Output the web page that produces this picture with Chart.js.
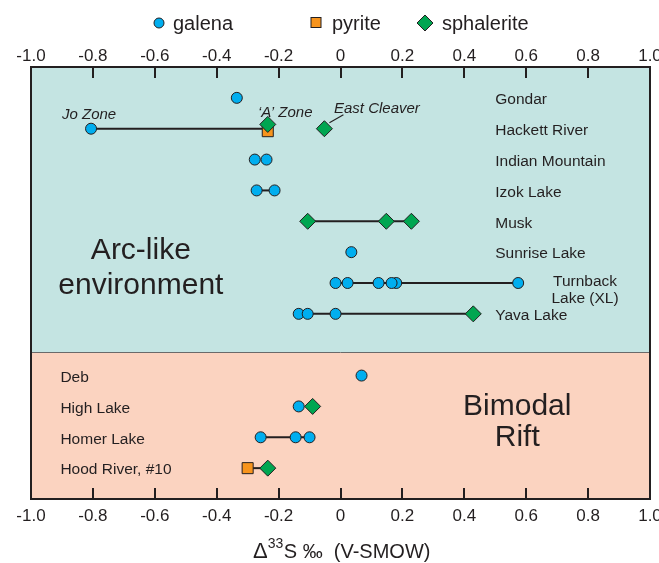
<!DOCTYPE html>
<html>
<head>
<meta charset="utf-8">
<script src="https://cdn.jsdelivr.net/npm/chart.js@4.4.1/dist/chart.umd.min.js"></script>
<style>
  html, body { margin: 0; padding: 0; background: #fff; }
  #wrap { width: 659px; height: 563px; }
</style>
</head>
<body>
<div id="wrap"><canvas id="myChart"></canvas></div>
<script>
// rows counted from the top of the plot; row 9 is the gap between the two settings
const sites = ['Gondar', 'Hackett River', 'Indian Mountain', 'Izok Lake', 'Musk', 'Sunrise Lake',
  'Turnback\nLake (XL)', 'Yava Lake', 'Deb', 'High Lake', 'Homer Lake', 'Hood River, #10'];
const siteRows = [1, 2, 3, 4, 5, 6, 7, 8, 10, 11, 12, 13];
const bandSplit = 9.25;

// [delta33S, row]
const galena = [
  [-0.335, 1], [-0.806, 2], [-0.277, 3], [-0.239, 3], [-0.271, 4], [-0.213, 4],
  [0.035, 6],
  [0.574, 7], [0.18, 7], [0.165, 7], [0.123, 7], [0.023, 7], [-0.016, 7],
  [-0.135, 8], [-0.106, 8], [-0.016, 8],
  [0.068, 10], [-0.135, 11], [-0.258, 12], [-0.145, 12], [-0.1, 12]
];
const pyrite = [[-0.235, 2.08], [-0.3, 13]];
const sphalerite = [
  [-0.235, 1.86], [-0.052, 2], [-0.106, 5], [0.148, 5], [0.229, 5],
  [0.429, 8], [-0.09, 11], [-0.235, 13]
];
// [row, from, to]
const ties = [
  [2, -0.806, -0.235], [4, -0.271, -0.213], [5, -0.106, 0.229], [7, -0.016, 0.574],
  [8, -0.135, 0.429], [12, -0.258, -0.1], [13, -0.3, -0.235]
];
const xTicks = { min: -1, max: 1, step: 0.2 };

const ink = '#231f20';
const colGalena = '#00aeef';
const colPyrite = '#f7941d';
const colSphal = '#00a651';
Chart.defaults.font.family = "'Liberation Sans', Arial, sans-serif";
Chart.defaults.color = ink;

const toPts = arr => arr.map(p => ({ x: p[0], y: p[1] }));

const datasets = [
  { label: 'galena', data: toPts(galena), pointStyle: 'circle', pointRadius: 5.5,
    backgroundColor: colGalena, borderColor: ink, borderWidth: 1, order: 3 },
  { label: 'pyrite', data: toPts(pyrite), pointStyle: 'rect', pointRadius: 7.8,
    backgroundColor: colPyrite, borderColor: ink, borderWidth: 1, order: 2 },
  { label: 'sphalerite', data: toPts(sphalerite), pointStyle: 'rectRot', pointRadius: 8,
    backgroundColor: colSphal, borderColor: ink, borderWidth: 1, order: 1 }
];
ties.forEach(t => {
  datasets.push({
    label: 'tie', data: [{ x: t[1], y: t[0] }, { x: t[2], y: t[0] }],
    showLine: true, pointRadius: 0, borderColor: ink, borderWidth: 2, order: 10
  });
});

function tickText(v) {
  if (Math.abs(v) < 1e-9) return '0';
  return v.toFixed(1);
}

const decor = {
  id: 'decor',
  beforeDatasetsDraw(chart) {
    const { ctx, chartArea: a, scales: { x, y } } = chart;
    const split = y.getPixelForValue(bandSplit);
    ctx.save();
    ctx.fillStyle = '#c4e4e2';
    ctx.fillRect(a.left, a.top, a.width, split - a.top);
    ctx.fillStyle = '#fbd3c0';
    ctx.fillRect(a.left, split, a.width, a.bottom - split);
    ctx.strokeStyle = '#6a6a6a';
    ctx.lineWidth = 1;
    ctx.beginPath();
    ctx.moveTo(a.left, Math.round(split) + 0.5);
    ctx.lineTo(a.right, Math.round(split) + 0.5);
    ctx.stroke();

    // frame + inward ticks
    ctx.strokeStyle = ink;
    ctx.lineWidth = 2;
    ctx.strokeRect(a.left, a.top, a.width, a.height);
    ctx.beginPath();
    x.ticks.forEach(t => {
      if (t.value <= x.min + 1e-9 || t.value >= x.max - 1e-9) return;
      const px = Math.round(x.getPixelForValue(t.value));
      ctx.moveTo(px, a.top);
      ctx.lineTo(px, a.top + 11);
      ctx.moveTo(px, a.bottom);
      ctx.lineTo(px, a.bottom - 11);
    });
    ctx.stroke();

    // site names
    ctx.fillStyle = ink;
    ctx.font = "15.5px 'Liberation Sans', Arial, sans-serif";
    ctx.textBaseline = 'middle';
    sites.forEach((s, i) => {
      const py = y.getPixelForValue(siteRows[i]) + 2;
      if (s.indexOf('\n') >= 0) {
        const parts = s.split('\n');
        ctx.textAlign = 'center';
        const cx = x.getPixelForValue(0.79);
        ctx.fillText(parts[0], cx, py - 3);
        ctx.fillText(parts[1], cx, py + 14);
      } else if (siteRows[i] < bandSplit) {
        ctx.textAlign = 'left';
        ctx.fillText(s, x.getPixelForValue(0.5), py);
      } else {
        ctx.textAlign = 'left';
        ctx.fillText(s, x.getPixelForValue(-0.905), py);
      }
    });

    // setting names
    ctx.font = "30px 'Liberation Sans', Arial, sans-serif";
    ctx.textAlign = 'center';
    ctx.fillText('Arc-like', x.getPixelForValue(-0.645), y.getPixelForValue(5.95));
    ctx.fillText('environment', x.getPixelForValue(-0.645), y.getPixelForValue(7.08));
    ctx.fillText('Bimodal', x.getPixelForValue(0.571), y.getPixelForValue(11.0));
    ctx.fillText('Rift', x.getPixelForValue(0.571), y.getPixelForValue(12.03));

    // deposit annotations
    ctx.font = "italic 15px 'Liberation Sans', Arial, sans-serif";
    ctx.textAlign = 'left';
    ctx.fillText('Jo Zone', 62, y.getPixelForValue(1.55));
    ctx.fillText('\u2018A\u2019 Zone', 258, y.getPixelForValue(1.5));
    ctx.fillText('East Cleaver', 334, y.getPixelForValue(1.36));
    ctx.lineWidth = 1.2;
    ctx.beginPath();
    const ex = x.getPixelForValue(-0.052), ey = y.getPixelForValue(2);
    ctx.moveTo(ex + 5, ey - 6);
    ctx.lineTo(ex + 19, ey - 14);
    ctx.stroke();
    ctx.restore();
  },
  afterDraw(chart) {
    const ctx = chart.ctx;
    ctx.save();
    ctx.strokeStyle = ink;
    ctx.lineWidth = 1;
    // legend
    ctx.fillStyle = colGalena;
    ctx.beginPath();
    ctx.arc(159, 23, 5, 0, Math.PI * 2);
    ctx.fill(); ctx.stroke();
    ctx.fillStyle = colPyrite;
    ctx.fillRect(311, 17.5, 10, 10);
    ctx.strokeRect(311, 17.5, 10, 10);
    ctx.fillStyle = colSphal;
    ctx.beginPath();
    ctx.moveTo(425, 15); ctx.lineTo(433, 23); ctx.lineTo(425, 31); ctx.lineTo(417, 23);
    ctx.closePath();
    ctx.fill(); ctx.stroke();
    ctx.fillStyle = ink;
    ctx.font = "20px 'Liberation Sans', Arial, sans-serif";
    ctx.textAlign = 'left';
    ctx.textBaseline = 'alphabetic';
    ctx.fillText('galena', 173, 30);
    ctx.fillText('pyrite', 332, 30);
    ctx.fillText('sphalerite', 442, 30);

    // axis title
    let tx = 253;
    ctx.font = "22px 'Liberation Sans', Arial, sans-serif";
    ctx.fillText('\u0394', tx, 558);
    tx += ctx.measureText('\u0394').width;
    ctx.font = "14px 'Liberation Sans', Arial, sans-serif";
    ctx.fillText('33', tx, 548);
    tx += ctx.measureText('33').width + 0.5;
    ctx.font = "20px 'Liberation Sans', Arial, sans-serif";
    ctx.fillText('S \u2030  (V-SMOW)', tx, 558);
    ctx.restore();
  }
};

function xAxis(pos, h, pad) {
  return {
    type: 'linear', axis: 'x', position: pos, min: xTicks.min, max: xTicks.max,
    ticks: { stepSize: xTicks.step, padding: pad, maxRotation: 0, autoSkip: false,
      font: { size: 17 }, color: ink, callback: tickText },
    grid: { display: false }, border: { display: false },
    afterFit(s) { s.height = h; s.paddingLeft = 0; s.paddingRight = 0; }
  };
}

new Chart(document.getElementById('myChart'), {
  type: 'scatter',
  data: { datasets: datasets },
  options: {
    responsive: true, maintainAspectRatio: false, animation: false,
    layout: { padding: { left: 31, right: 9, top: 0, bottom: 0 } },
    plugins: { legend: { display: false }, tooltip: { enabled: false } },
    scales: {
      x: xAxis('bottom', 64, -1),
      x2: xAxis('top', 67, -8),
      y: { type: 'linear', min: 0, max: 14, reverse: true, display: false }
    }
  },
  plugins: [decor]
});
</script>
</body>
</html>
